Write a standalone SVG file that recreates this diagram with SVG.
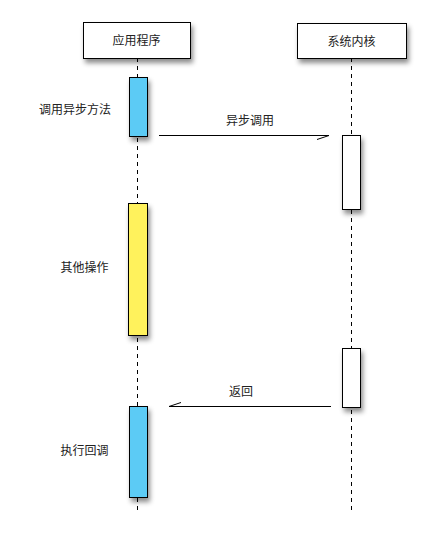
<svg xmlns="http://www.w3.org/2000/svg" width="435" height="542" viewBox="0 0 435 542">
<style>
text{font-family:"Noto Sans CJK SC","Liberation Sans",sans-serif;font-size:12px;fill:#222}
.box{fill:#fff;stroke:#000;stroke-width:1}
.life{stroke:#000;stroke-width:1;stroke-dasharray:4 4}
.act{stroke:#000;stroke-width:1}
.msg{stroke:#000;stroke-width:1;fill:none}
</style>
<defs>
<filter id="sh" x="-50%" y="-50%" width="200%" height="200%">
<feDropShadow dx="2" dy="4" stdDeviation="2.5" flood-color="#000" flood-opacity="0.45"/>
</filter>
</defs>
<g id="lifelines">
<line class="life" x1="137.5" y1="58" x2="137.5" y2="512"/>
<line class="life" x1="351.5" y1="58" x2="351.5" y2="512"/>
</g>
<g id="app">
<rect class="box" x="83.5" y="22.5" width="107" height="36" filter="url(#sh)"/>
<text x="136.5" y="45" text-anchor="middle">应用程序</text>
</g>
<g id="kernel">
<rect class="box" x="297.5" y="23.5" width="109" height="35" filter="url(#sh)"/>
<text x="351.5" y="45.5" text-anchor="middle">系统内核</text>
</g>
<g id="act-call">
<rect class="act" x="129.5" y="77.5" width="18" height="59" fill="#5BCBF5" filter="url(#sh)"/>
<text x="75" y="114" text-anchor="middle">调用异步方法</text>
</g>
<g id="act-other">
<rect class="act" x="128.5" y="203.5" width="19" height="132" fill="#FFF25C" filter="url(#sh)"/>
<text x="84.5" y="272" text-anchor="middle">其他操作</text>
</g>
<g id="act-callback">
<rect class="act" x="129.5" y="406.5" width="18" height="91" fill="#5BCBF5" filter="url(#sh)"/>
<text x="84.5" y="455" text-anchor="middle">执行回调</text>
</g>
<g id="kernel-act1">
<rect class="act" x="342.5" y="135.5" width="18" height="74" fill="#fff" filter="url(#sh)"/>
</g>
<g id="kernel-act2">
<rect class="act" x="342.5" y="348.5" width="18" height="59" fill="#fff" filter="url(#sh)"/>
</g>
<g id="connectors">
<line class="msg" x1="159" y1="135.5" x2="329" y2="135.5"/>
<path class="msg" d="M329 135.5 L317 139.5"/>
<text x="250" y="125" text-anchor="middle">异步调用</text>
<line class="msg" x1="169" y1="406.5" x2="331" y2="406.5"/>
<path class="msg" d="M169 406.5 L181 402.5"/>
<text x="241" y="396" text-anchor="middle">返回</text>
</g>
</svg>
